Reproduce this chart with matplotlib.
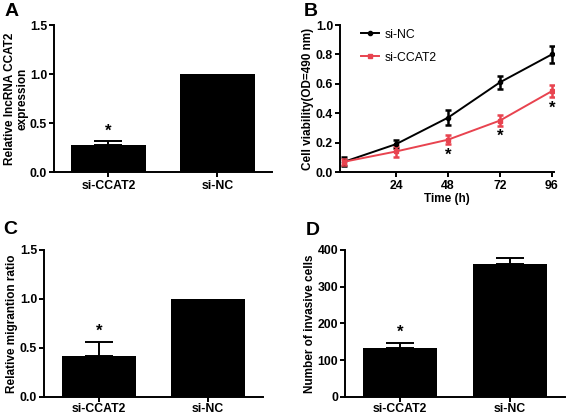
import matplotlib
matplotlib.use("Agg")
import matplotlib.pyplot as plt
from matplotlib.lines import Line2D

plt.rcParams["font.family"] = ["Liberation Sans", "DejaVu Sans"]
plt.rcParams["font.weight"] = "bold"
plt.rcParams["axes.labelweight"] = "bold"

groups = ["si-CCAT2", "si-NC"]

# panel A
expr_vals = [0.28, 1.0]
expr_err = [0.04, 0.0]

# panel B
hours = [0, 24, 48, 72, 96]
nc_vals = [0.07, 0.19, 0.37, 0.61, 0.80]
nc_err = [0.03, 0.03, 0.05, 0.045, 0.06]
ccat_vals = [0.07, 0.14, 0.22, 0.35, 0.55]
ccat_err = [0.02, 0.04, 0.03, 0.035, 0.04]
star_hours = [48, 72, 96]

# panel C
migr_vals = [0.42, 1.0]
migr_err = [0.14, 0.0]

# panel D
inv_vals = [132, 363]
inv_err = [16, 15]

RED = "#e8434f"
FS = 8.8
LFS = 8.5

fig = plt.figure(figsize=(5.67, 4.15), dpi=100)


def style(ax, xpad=2):
    for s in ["top", "right"]:
        ax.spines[s].set_visible(False)
    for s in ["left", "bottom"]:
        ax.spines[s].set_linewidth(1.4)
    ax.tick_params(width=1.4, length=3.5, labelsize=FS, pad=1.5)
    ax.tick_params(axis="x", pad=xpad)
    for lab in ax.get_xticklabels() + ax.get_yticklabels():
        lab.set_fontweight("bold")


def bar_panel(rect, vals, errs, ylim, yticks, fmt, ylabel, star_y, xpad=2):
    ax = fig.add_axes(rect)
    x = list(range(len(groups)))
    ax.bar(x, vals, width=0.68, color="black")
    for xi, v, e in zip(x, vals, errs):
        if e > 0:
            ax.errorbar([xi], [v], yerr=[[0], [e]], fmt="none",
                        ecolor="black", elinewidth=1.4, capsize=10,
                        capthick=1.4)
    ax.set_xlim(-0.5, 1.5)
    ax.set_ylim(*ylim)
    ax.set_yticks(yticks)
    ax.set_yticklabels([fmt.format(t) for t in yticks])
    ax.set_xticks(x)
    ax.set_xticklabels(groups)
    ax.set_ylabel(ylabel, fontsize=LFS, labelpad=1, linespacing=1.0)
    ax.text(0, star_y, "*", ha="center", va="center", fontsize=12)
    style(ax, xpad)
    return ax


axA = bar_panel([0.0952, 0.5855, 0.3845, 0.3542], expr_vals, expr_err,
                (0, 1.5), [0.0, 0.5, 1.0, 1.5], "{:.1f}",
                "Relative lncRNA CCAT2\nexpression", expr_vals[0] + expr_err[0] + 0.1)

axC = bar_panel([0.0776, 0.0434, 0.3862, 0.3542], migr_vals, migr_err,
                (0, 1.5), [0.0, 0.5, 1.0, 1.5], "{:.1f}",
                "Relative migrantion ratio", migr_vals[0] + migr_err[0] + 0.11,
                xpad=1)

axD = bar_panel([0.6085, 0.0434, 0.388, 0.3542], inv_vals, inv_err,
                (0, 400), [0, 100, 200, 300, 400], "{:d}",
                "Number of invasive cells", inv_vals[0] + inv_err[0] + 28,
                xpad=1)

# panel B
axB = fig.add_axes([0.5996, 0.5855, 0.3774, 0.3542])
axB.errorbar(hours, nc_vals, yerr=nc_err, color="black", marker="o",
             markersize=3, lw=1.4, elinewidth=1.8, capsize=2.5, capthick=1.8)
axB.errorbar(hours, ccat_vals, yerr=ccat_err, color=RED, marker="s",
             markersize=3, lw=1.4, elinewidth=1.8, capsize=2.5, capthick=1.8)
for h in star_hours:
    i = hours.index(h)
    axB.text(h, ccat_vals[i] - ccat_err[i] - 0.075, "*", ha="center",
             va="center", fontsize=12)
axB.set_xlim(-2, 97)
axB.set_ylim(0, 1.0)
axB.set_xticks([24, 48, 72, 96])
axB.set_yticks([0.0, 0.2, 0.4, 0.6, 0.8, 1.0])
axB.set_yticklabels(["{:.1f}".format(t) for t in [0.0, 0.2, 0.4, 0.6, 0.8, 1.0]])
axB.set_xlabel("Time (h)", fontsize=LFS, labelpad=1)
axB.set_ylabel("Cell viability(OD=490 nm)", fontsize=LFS, labelpad=1)
handles = [Line2D([], [], color="black", marker="o", markersize=3, lw=1.4),
           Line2D([], [], color=RED, marker="s", markersize=3, lw=1.4)]
leg = axB.legend(handles, ["si-NC", "si-CCAT2"], loc="upper left",
                 frameon=False, fontsize=FS, handlelength=1.5,
                 bbox_to_anchor=(0.045, 1.05), labelspacing=0.9,
                 handletextpad=0.5)
for t in leg.get_texts():
    t.set_fontweight("normal")
style(axB)

# panel letters
fig.text(0.008, 0.992, "A", fontsize=14, fontweight="bold", va="top")
fig.text(0.536, 0.992, "B", fontsize=14, fontweight="bold", va="top")
fig.text(0.005, 0.468, "C", fontsize=14, fontweight="bold", va="top")
fig.text(0.540, 0.465, "D", fontsize=14, fontweight="bold", va="top")

fig.savefig("out.png", dpi=100)
